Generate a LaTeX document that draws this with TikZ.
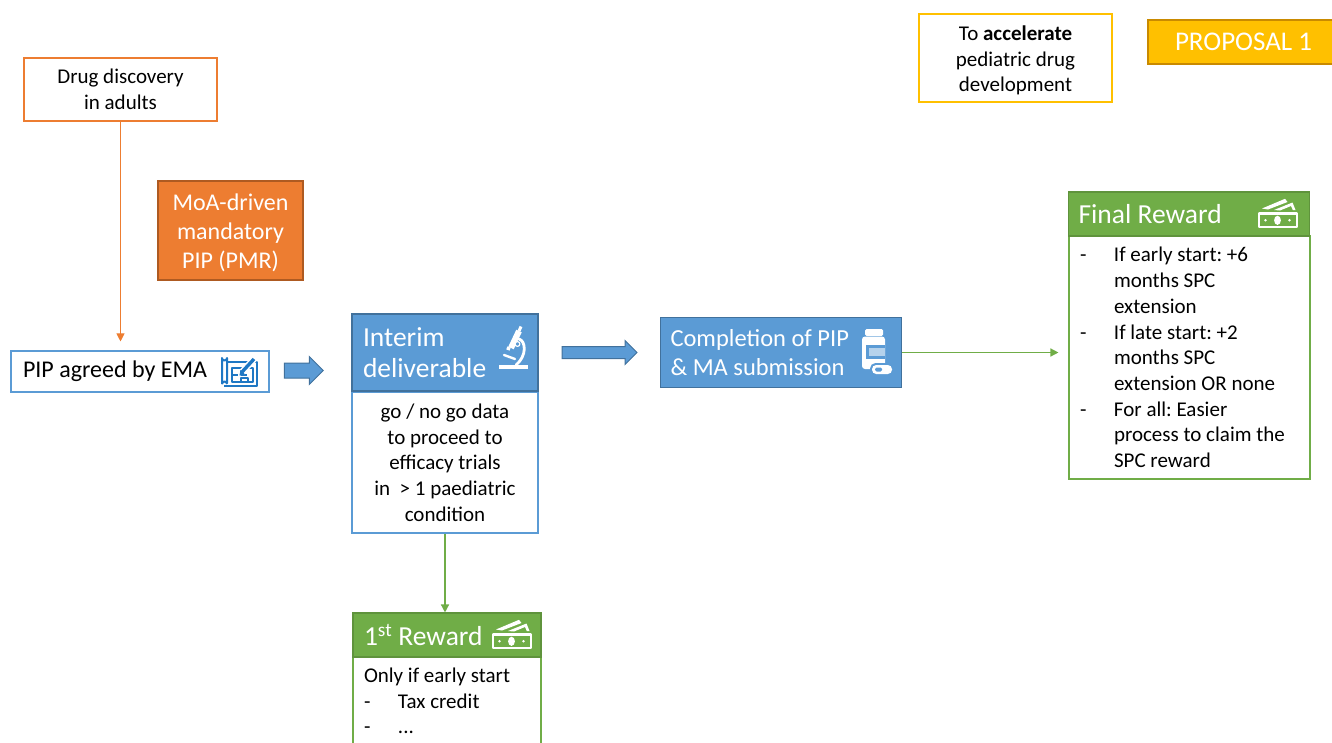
\documentclass[tikz,border=0pt]{standalone}
\usepackage{fontspec}
\setmainfont{Carlito}
\usetikzlibrary{arrows.meta,shapes.arrows}
\definecolor{bluef}{HTML}{5B9BD5}
\definecolor{bluel}{HTML}{41719C}
\definecolor{iconblue}{HTML}{1F78C4}
\definecolor{greenf}{HTML}{70AD47}
\definecolor{greenl}{HTML}{507E32}
\definecolor{orangef}{HTML}{ED7D31}
\definecolor{orangel}{HTML}{AE5A21}
\definecolor{yellowf}{HTML}{FFC000}
\definecolor{yellowl}{HTML}{C98A00}
\newcommand{\fs}[2]{\fontsize{#1}{#2}\selectfont}
\newcommand{\dashitem}[1]{\makebox[34pt][l]{-}#1}
\newcommand{\contitem}[1]{\hspace*{34pt}#1}
\tikzset{
  boxbase/.style={rectangle,draw,line width=1.1pt,inner sep=0pt,align=center,text=black,font=\fs{21}{25.7}},
  outlineorange/.style={boxbase,draw=orangef,fill=white},
  outlineblue/.style={boxbase,draw=bluef,fill=white},
  outlinegreen/.style={boxbase,draw=greenf,fill=white},
  outlineyellow/.style={boxbase,draw=yellowf,fill=white},
  filledorange/.style={boxbase,draw=orangel,fill=orangef,text=white,font=\fs{24}{29}},
  filledblue/.style={boxbase,draw=bluel,fill=bluef,text=white,align=flush left},
  filledgreen/.style={boxbase,draw=greenf!85!black,fill=greenf,text=white,align=flush left},
  filledyellow/.style={boxbase,draw=yellowl,fill=yellowf,text=white,font=\fs{27}{29}},
  blockarrow/.style={single arrow,draw=bluel,fill=bluef,line width=1pt,inner xsep=0pt,inner ysep=0pt,single arrow head indent=0pt},
  thinorange/.style={draw=orangef,line width=1pt,-{Triangle[length=8pt,width=8pt]}},
  thingreen/.style={draw=greenf,line width=1.4pt,-{Triangle[length=8pt,width=8pt]}},
  icw/.style={draw=white,line width=2.4pt,line join=round},
}
\newcommand{\moneyicon}[1]{%
\begin{scope}[shift={(#1)}]
  \draw[icw,line width=2.8pt] (2,15.5) rectangle (40,29);
  \fill[white] (20.5,22.3) ellipse (3.4 and 4.6);
  \fill[white] (8.5,22.3) circle (1.4);
  \fill[white] (32.5,22.3) circle (1.4);
  \fill[white] (5,10.5) -- (28,0.8) -- (30.5,4) -- (11,11.5) -- cycle;
  \fill[white] (17,12) -- (35.5,4.5) -- (38.5,12) -- (35.8,12) -- (34,8) -- (23,12.5) -- cycle;
\end{scope}}
\begin{document}
\frenchspacing
\begin{tikzpicture}[x=1pt,y=-1pt]
\useasboundingbox (0,0) rectangle (1332,742);
\clip (0,0) rectangle (1332,742);

\node[outlineorange,minimum width=193pt,minimum height=63pt] (drug) at (120.5,89.5) {Drug discovery\\in adults};
\node[filledorange,minimum width=145pt,minimum height=99pt] (moa) at (230.5,230.5) {\rule{0pt}{21.5pt}MoA-driven\\mandatory\\PIP (PMR)};
\node[outlineblue,minimum width=258pt,minimum height=41pt,text width=246pt,inner xsep=6pt,font=\fs{24}{29},align=flush left] (pip) at (140,371.5) {\hspace*{6pt}PIP agreed by EMA};
\node[blockarrow,minimum height=39pt,single arrow head extend=6.5pt] (arrowa) at (300,370.5) {\rule{0pt}{14pt}};

\node[outlineblue,minimum width=186pt,minimum height=141pt] (interimbody) at (445,462.5) {go / no go data\\to proceed to\\efficacy trials\\in \ > 1 paediatric\\condition};
\node[filledblue,minimum width=186pt,minimum height=77pt,text width=164pt,inner xsep=11pt,font=\fs{27.5}{31}] (interim) at (445,352.5) {Interim\\deliverable};
\node[blockarrow,minimum height=75pt,single arrow head extend=6pt] (arrowb) at (596.5,352.5) {\rule{0pt}{11pt}};
\node[filledblue,minimum width=241pt,minimum height=70pt,text width=221pt,inner xsep=10pt,font=\fs{24.5}{29}] (completion) at (781,352.5) {Completion of PIP\\\& MA submission};

\node[outlinegreen,minimum width=241pt,minimum height=243pt,text width=229pt,inner xsep=6pt,align=flush left] (finalbody) at (1189.5,357.5) {%
\hspace*{5pt}\dashitem{If early start: +6}\\
\hspace*{5pt}\contitem{months SPC}\\
\hspace*{5pt}\contitem{extension}\\
\hspace*{5pt}\dashitem{If late start: +2}\\
\hspace*{5pt}\contitem{months SPC}\\
\hspace*{5pt}\contitem{extension OR none}\\
\hspace*{5pt}\dashitem{For all: Easier}\\
\hspace*{5pt}\contitem{process to claim the}\\
\hspace*{5pt}\contitem{SPC reward}};
\node[filledgreen,minimum width=241pt,minimum height=44pt,text width=221pt,inner xsep=10pt,font=\fs{27.5}{32}] (finalhead) at (1189,214) {Final Reward};

\node[outlinegreen,minimum width=188pt,minimum height=88pt,text width=176pt,inner xsep=6pt,align=flush left] (firstbody) at (447,701) {%
\hspace*{5pt}Only if early start\\
\hspace*{5pt}\dashitem{Tax credit}\\
\hspace*{5pt}\dashitem{...}};
\node[filledgreen,minimum width=188pt,minimum height=44pt,text width=166pt,inner xsep=11pt,font=\fs{27.5}{32}] (firsthead) at (447,635) {1\textsuperscript{st} Reward};

\node[outlineyellow,minimum width=193pt,minimum height=88pt] (goal) at (1015.5,58) {\rule{0pt}{19.5pt}To \textbf{accelerate}\\pediatric drug\\development};
\node[filledyellow,minimum width=190pt,minimum height=44pt,text width=190pt,align=flush left] (proposal) at (1243,42) {\hspace*{27pt}PROPOSAL 1};

\draw[thinorange,shorten >=9pt] (drug.south) -- (drug.south |- pip.north);
\draw[thingreen,shorten >=10pt] (completion.east) -- (completion.east -| finalbody.west);
\draw[thingreen] (interimbody.south) -- (interimbody.south |- firsthead.north);

% blueprint icon
\begin{scope}[shift={(221,355)},draw=iconblue,line width=2pt,line join=round]
  \draw (1,29) -- (1,3) arc (180:0:2.5) -- (6,28);
  \draw (1,29) arc (180:360:2.5);
  \draw (6,7) -- (36,7) -- (36,31) -- (3,31);
  \draw[line width=1.2pt] (11,13) rectangle (32,27);
  \draw[line width=1.2pt] (11,20) -- (17,20) (20,13) -- (20,20) -- (26,20) (20,27) -- (20,23) -- (27,23) -- (27,27);
  \draw[white,line width=6.5pt] (21,17) -- (34,3);
  \draw[line width=3.4pt] (21,17) -- (33,4);
  \fill[iconblue] (18.5,20.5) -- (19.5,15) -- (23.5,18.5) -- cycle;
\end{scope}

% microscope icon
\begin{scope}[shift={(498,326)},draw=white,line cap=round,line join=round]
  \draw[line width=3.4pt,line cap=butt] (1,41) -- (30,41);
  \draw[line width=6pt,line cap=butt] (21,5) -- (13,22);
  \draw[line width=3pt,line cap=butt] (23,0.5) -- (21,5);
  \draw[line width=3.5pt,line cap=butt] (11,21) -- (10,24);
  \draw[line width=2.4pt] (6,29) -- (17,33);
  \draw[line width=2.8pt] (21,13) .. controls (28,15) and (29,30) .. (18,39);
  \draw[fill=bluef,line width=1.2pt] (19.5,18) circle (2.4);
\end{scope}

% bottle icon
\begin{scope}[shift={(861,329)}]
  \fill[white,rounded corners=1.5pt] (4,0) rectangle (22,7);
  \fill[white,rounded corners=3pt] (1,7.5) rectangle (24,40);
  \fill[bluef] (5,16) rectangle (24,30);
  \fill[bluef!45!white] (8,19) rectangle (24,27);
  \fill[bluef,rounded corners=5.5pt] (9,34) rectangle (33,47);
  \fill[white,rounded corners=4.2pt] (11,36) rectangle (31,45);
  \fill[bluef,rounded corners=1.5pt] (14,38.5) rectangle (21,42.5);
\end{scope}

\moneyicon{1257,198}
\moneyicon{491,619}
\end{tikzpicture}
\end{document}
